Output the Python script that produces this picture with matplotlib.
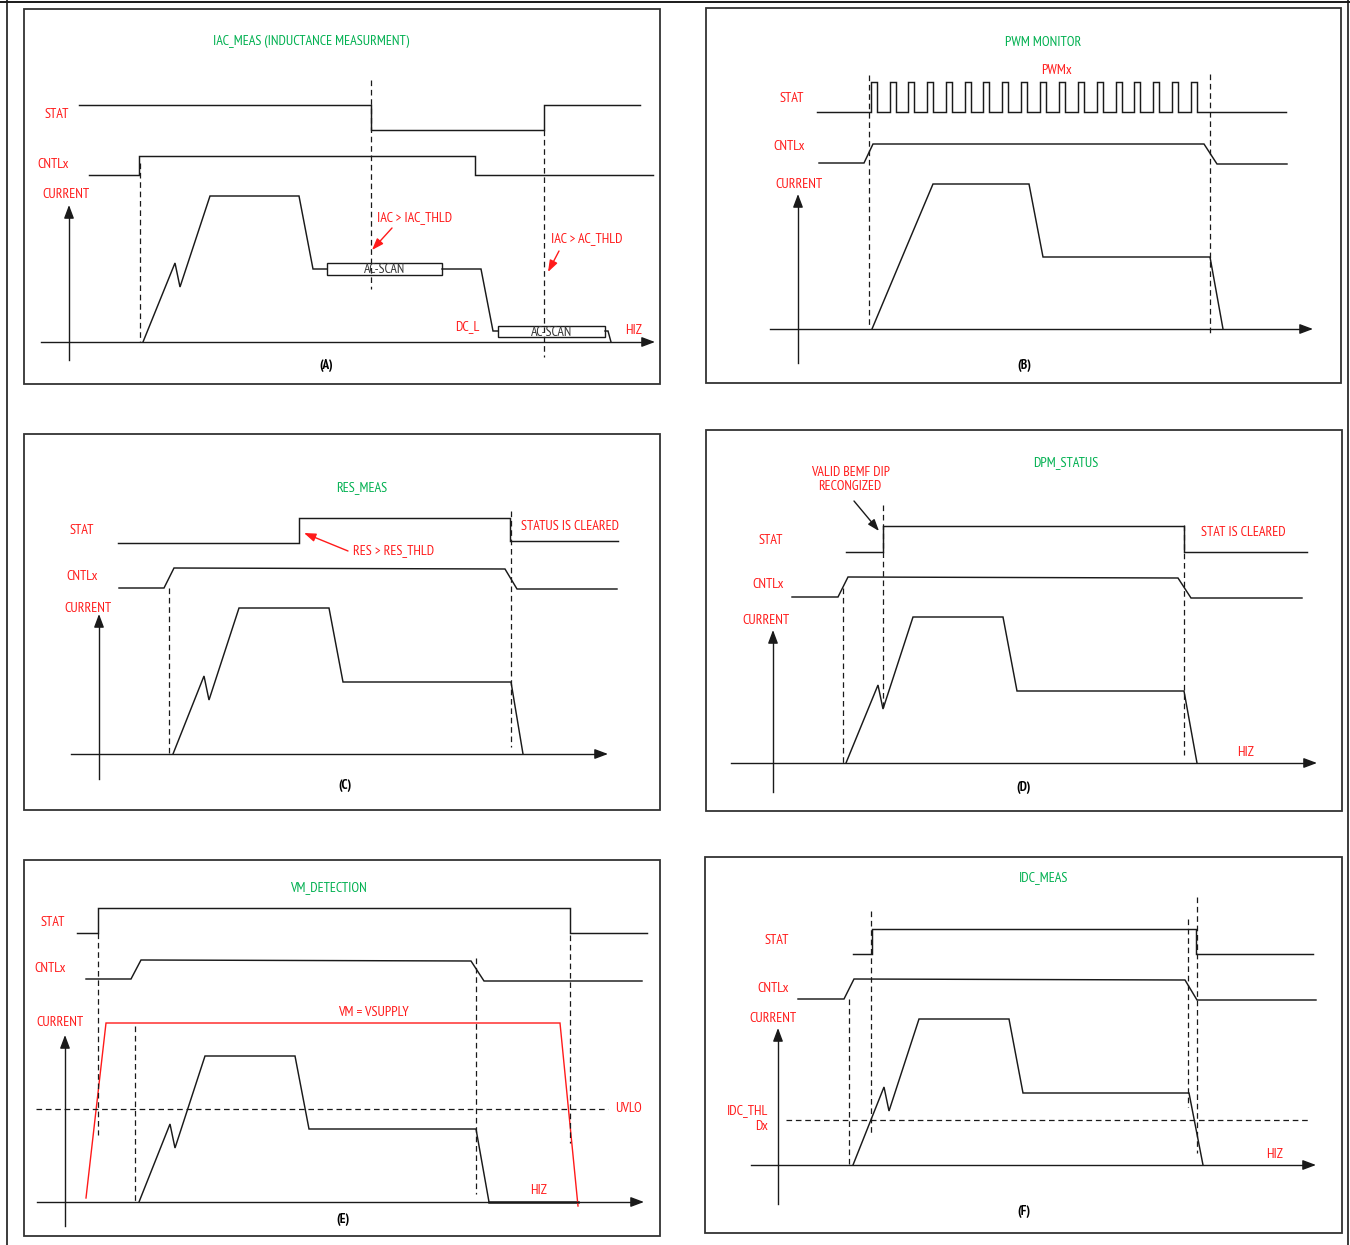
import matplotlib
matplotlib.use("Agg")
import matplotlib.pyplot as plt
from matplotlib.patches import Rectangle
from matplotlib import font_manager as fm

_installed = {f.name for f in fm.fontManager.ttflist}
if 'PT Sans Narrow' in _installed:
    FONT = ['PT Sans Narrow', 'DejaVu Sans']
    FS = 10.2
else:
    FONT = ['Liberation Sans', 'DejaVu Sans']
    FS = 7.4
RED = '#FF1A1A'
GREEN = '#00B050'
INK = '#1a1a1a'

# ---------------- data (figure pixel coordinates of the schematic) -------------
panel_boxes = [(24, 9, 660, 384), (706, 8, 1341, 383),
               (24, 434, 660, 810), (706, 430, 1342, 811),
               (24, 860, 660, 1236), (705, 857, 1342, 1233)]

# Panel A : IAC_MEAS
A_stat = [(79, 105), (371, 105), (371, 130), (544, 130), (544, 105), (640, 105)]
A_cntl = [(89, 175), (139, 175), (139, 156), (475, 156), (475, 175), (653, 175)]
A_cur1 = [(143, 342), (175, 263), (180, 287), (210, 196), (299, 196), (313, 269), (327, 269)]
A_cur2 = [(442, 269), (481, 269), (493, 331), (498, 331)]
A_cur3 = [(605, 331), (608, 331), (611, 342)]
A_boxes = [(327, 263, 442, 275), (498, 326, 605, 337)]
A_box_text = ['AC-SCAN', 'AC-SCAN']
A_dash = [(140, 163, 342), (371, 80, 289), (544, 130, 357)]
A_axes = (69, 360, 205, 41, 655, 342)

# Panel B : PWM MONITOR
B_pwm_base = (817, 1286, 112, 82)
B_pwm_rise = [871, 890, 908, 927, 946, 965, 983, 1002, 1021,
              1040, 1059, 1078, 1097, 1116, 1134, 1153, 1172, 1191]
B_pwm_width = 6
B_cntl = [(819, 163), (864, 163), (873, 144), (1204, 144), (1217, 164), (1287, 164)]
B_cur = [(872, 329), (906, 248), (933, 184), (1029, 184), (1043, 257), (1210, 257), (1223, 329)]
B_dash = [(869, 75, 328), (1210, 74, 335)]
B_axes = (798, 363, 194, 770, 1313, 329)

# Panel C : RES_MEAS
C_stat = [(118, 543), (299, 543), (299, 518), (510, 518), (510, 541), (618, 541)]
C_cntl = [(119, 588), (164, 588), (174, 568), (505, 569), (517, 589), (617, 589)]
C_cur = [(173, 754), (204, 676), (209, 700), (239, 608), (329, 608), (343, 682), (511, 682), (523, 754)]
C_dash = [(169, 588, 754), (511, 511, 747)]
C_axes = (99, 779, 614, 71, 608, 754)

# Panel D : DPM_STATUS
D_stat = [(846, 552), (883, 552), (883, 526), (1184, 526), (1184, 552), (1307, 552)]
D_cntl = [(792, 597), (838, 597), (848, 577), (1178, 578), (1191, 598), (1302, 598)]
D_cur = [(846, 763), (878, 685), (883, 709), (913, 617), (1003, 617), (1017, 691), (1184, 691), (1197, 763)]
D_dash = [(843, 588, 763), (883, 505, 708), (1184, 525, 755)]
D_axes = (773, 792, 630, 731, 1317, 763)

# Panel E : VM_DETECTION
E_stat = [(77, 933), (98, 933), (98, 908), (570, 908), (570, 933), (647, 933)]
E_cntl = [(86, 979), (131, 979), (141, 960), (471, 961), (484, 981), (642, 981)]
E_vm = [(86, 1198), (106, 1023), (560, 1023), (578, 1206)]
E_cur = [(139, 1202), (170, 1124), (175, 1148), (205, 1056), (295, 1056), (309, 1129), (476, 1129), (489, 1202)]
E_hiz = [(489, 1202), (578, 1202)]
E_dash = [(98, 933, 1135), (135, 1026, 1202), (476, 958, 1194), (570, 935, 1143)]
E_uvlo = (36, 608, 1109)
E_axes = (65, 1226, 1035, 37, 644, 1202)

# Panel F : IDC_MEAS
F_stat = [(853, 954), (872, 954), (872, 929), (1196, 929), (1196, 954), (1313, 954)]
F_cntl = [(798, 999), (844, 999), (854, 979), (1185, 980), (1197, 1000), (1316, 1000)]
F_cur = [(853, 1165), (884, 1087), (889, 1111), (919, 1019), (1009, 1019), (1023, 1093), (1189, 1093), (1203, 1165)]
F_dash = [(849, 999, 1165), (871, 911, 1136), (1188, 919, 1107), (1197, 897, 1153)]
F_thl = (786, 1309, 1120)
F_axes = (778, 1204, 1028, 751, 1316, 1165)

# texts: x, y, string, horizontal alignment
titles = [(311, 41, 'IAC_MEAS (INDUCTANCE MEASURMENT)'), (1043, 43, 'PWM MONITOR'),
          (362, 488, 'RES_MEAS'), (1066, 463, 'DPM_STATUS'),
          (328, 888, 'VM_DETECTION'), (1044, 878, 'IDC_MEAS')]
captions = [(326, 366, '(A)'), (1024, 365, '(B)'), (345, 786, '(C)'),
            (1024, 788, '(D)'), (343, 1219, '(E)'), (1024, 1212, '(F)')]
red_labels = [
    (57, 114, 'STAT', 'center'), (53, 164, 'CNTLx', 'center'), (66, 194, 'CURRENT', 'center'),
    (377, 218, 'IAC > IAC_THLD', 'left'), (551, 239, 'IAC > AC_THLD', 'left'),
    (467, 327, 'DC_L', 'center'), (634, 331, 'HIZ', 'center'),
    (1057, 70, 'PWMx', 'center'), (792, 99, 'STAT', 'center'), (789, 147, 'CNTLx', 'center'),
    (799, 184, 'CURRENT', 'center'),
    (82, 531, 'STAT', 'center'), (82, 577, 'CNTLx', 'center'), (88, 608, 'CURRENT', 'center'),
    (521, 526, 'STATUS IS CLEARED', 'left'), (353, 551, 'RES > RES_THLD', 'left'),
    (771, 540, 'STAT', 'center'), (1201, 533, 'STAT IS CLEARED', 'left'),
    (768, 585, 'CNTLx', 'center'), (766, 621, 'CURRENT', 'center'), (1246, 753, 'HIZ', 'center'),
    (53, 923, 'STAT', 'center'), (50, 968, 'CNTLx', 'center'), (373, 1012, 'VM = VSUPPLY', 'center'),
    (60, 1023, 'CURRENT', 'center'), (629, 1109, 'UVLO', 'center'), (539, 1191, 'HIZ', 'center'),
    (777, 941, 'STAT', 'center'), (773, 988, 'CNTLx', 'center'), (773, 1019, 'CURRENT', 'center'),
    (768, 1111, 'IDC_THL', 'right'), (768, 1126, 'Dx', 'right'), (1275, 1154, 'HIZ', 'center'),
]
thin_red = [(850, 472, 'VALID BEMF DIP'), (850, 486, 'RECONGIZED')]
red_arrows = [((392, 228), (372, 250)), ((559, 251), (548, 272)), ((348, 551), (304, 533))]
black_arrows = [((854, 501), (879, 531))]

# ---------------- drawing ----------------
W, H = 1350, 1245
fig = plt.figure(figsize=(W / 100, H / 100), dpi=100)
ax = fig.add_axes([0, 0, 1, 1])
ax.set_xlim(0, W)
ax.set_ylim(H, 0)
ax.axis('off')

# outer frame
ax.plot([0, W], [1.5, 1.5], color=INK, lw=1.4)
ax.plot([6.5, 6.5], [0, H], color=INK, lw=1.2)
ax.plot([1348, 1348], [0, H], color=INK, lw=1.2)

for x0, y0, x1, y1 in panel_boxes:
    ax.add_patch(Rectangle((x0, y0), x1 - x0, y1 - y0, fill=False, ec='#333333', lw=1.3))


def wave(pts, color=INK, lw=1.05):
    xs, ys = zip(*pts)
    ax.plot(xs, ys, color=color, lw=lw, solid_joinstyle='miter')


def dashes(items):
    for x, ya, yb in items:
        ax.plot([x, x], [ya, yb], color=INK, lw=0.9, ls=(0, (4.5, 3)))


def axes_arrows(spec):
    yx, ybot, ytop, xl, xr, xy = spec
    ax.plot([yx, yx], [ybot, ytop + 8], color=INK, lw=1.0)
    ax.annotate('', xy=(yx, ytop), xytext=(yx, ytop + 9),
                arrowprops=dict(arrowstyle='-|>,head_length=0.8,head_width=0.3', color=INK, lw=1.0,
                                shrinkA=0, shrinkB=0))
    ax.plot([xl, xr - 8], [xy, xy], color=INK, lw=1.0)
    ax.annotate('', xy=(xr, xy), xytext=(xr - 9, xy),
                arrowprops=dict(arrowstyle='-|>,head_length=0.8,head_width=0.3', color=INK, lw=1.0,
                                shrinkA=0, shrinkB=0))


# Panel A
wave(A_stat); wave(A_cntl); wave(A_cur1); wave(A_cur2); wave(A_cur3)
for (x0, y0, x1, y1), t in zip(A_boxes, A_box_text):
    ax.add_patch(Rectangle((x0, y0), x1 - x0, y1 - y0, fill=False, ec=INK, lw=1.0))
    ax.text((x0 + x1) / 2, (y0 + y1) / 2 + 0.5, t, ha='center', va='center', fontsize=FS - 0.3,
            family=FONT, color='#333333')
dashes(A_dash); axes_arrows(A_axes)

# Panel B
x0, x1, ylo, yhi = B_pwm_base
pts = [(x0, ylo)]
for r in B_pwm_rise:
    pts += [(r, ylo), (r, yhi), (r + B_pwm_width, yhi), (r + B_pwm_width, ylo)]
pts.append((x1, ylo))
wave(pts)
wave(B_cntl); wave(B_cur); dashes(B_dash); axes_arrows(B_axes)

# Panel C
wave(C_stat); wave(C_cntl); wave(C_cur); dashes(C_dash); axes_arrows(C_axes)

# Panel D
wave(D_stat); wave(D_cntl); wave(D_cur); dashes(D_dash); axes_arrows(D_axes)

# Panel E
wave(E_stat); wave(E_cntl); wave(E_cur); wave(E_hiz, lw=1.8)
wave(E_vm, color=RED, lw=1.0)
ax.plot([E_uvlo[0], E_uvlo[1]], [E_uvlo[2], E_uvlo[2]], color=INK, lw=0.9, ls=(0, (4.5, 3)))
dashes(E_dash); axes_arrows(E_axes)

# Panel F
wave(F_stat); wave(F_cntl); wave(F_cur)
ax.plot([F_thl[0], F_thl[1]], [F_thl[2], F_thl[2]], color=INK, lw=0.9, ls=(0, (4.5, 3)))
dashes(F_dash); axes_arrows(F_axes)

# annotation arrows
for (s, e) in red_arrows:
    ax.annotate('', xy=e, xytext=s,
                arrowprops=dict(arrowstyle='-|>,head_length=0.7,head_width=0.25', color=RED, lw=1.0,
                                shrinkA=0, shrinkB=0))
for (s, e) in black_arrows:
    ax.annotate('', xy=e, xytext=s,
                arrowprops=dict(arrowstyle='-|>,head_length=0.7,head_width=0.25', color=INK, lw=1.0,
                                shrinkA=0, shrinkB=0))

# texts
for x, y, t in titles:
    ax.text(x, y, t, color=GREEN, ha='center', va='center', fontsize=FS, family=FONT)
for x, y, t in captions:
    ax.text(x, y, t, color='black', ha='center', va='center', fontsize=FS - 0.7, family=FONT, weight='bold')
for x, y, t, ha in red_labels:
    ax.text(x, y, t, color=RED, ha=ha, va='center', fontsize=FS, family=FONT)
for x, y, t in thin_red:
    ax.text(x, y, t, color=RED, ha='center', va='center', fontsize=FS - 0.2, family=FONT)

fig.savefig('out.png', dpi=100)
